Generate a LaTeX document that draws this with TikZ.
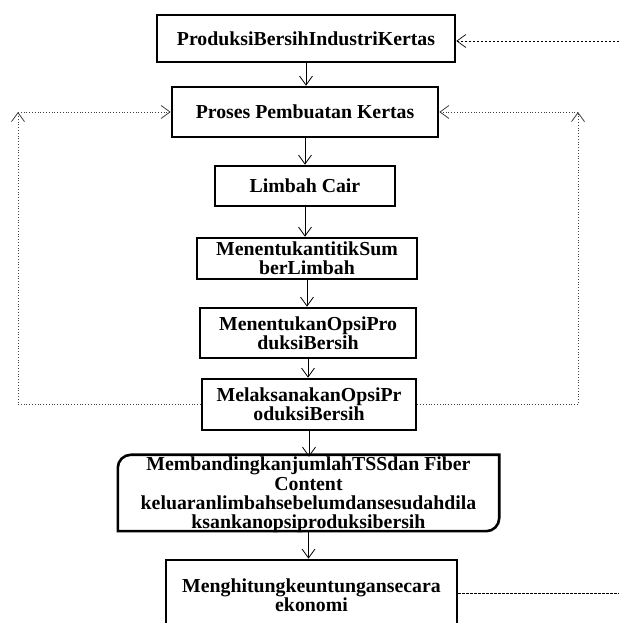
\documentclass[tikz,border=0pt]{standalone}
\usepackage{fontspec}
\setmainfont{Liberation Serif}
\usetikzlibrary{arrows.meta,calc}
\begin{document}
\begin{tikzpicture}[x=1pt,y=1pt,
  txt/.style={inner sep=0pt, align=center, font=\fontsize{19.8}{19.3}\selectfont\bfseries},
  box/.style={txt, draw, line width=2.6pt},
  tip/.style={-{Straight Barb[length=9pt,width=13pt]}},
  flow/.style={tip, line width=0.8pt},
  fb/.style={dotted, line width=0.8pt, draw=black!75},
  dsh/.style={dash pattern=on 2.5pt off 1.5pt, line width=0.7pt}]
\useasboundingbox (0,0) rectangle (619,623);
\clip (0,0) rectangle (619,623);
\node[box, minimum width=298pt, minimum height=47pt] (b1) at (306,584.5) {ProduksiBersihIndustriKertas};
\node[box, minimum width=266pt, minimum height=50pt] (b2) at (305,511) {Proses Pembuatan Kertas};
\node[box, minimum width=180pt, minimum height=40pt] (b3) at (305,437) {Limbah Cair};
\node[box, minimum width=220pt, minimum height=41pt] (b4) at (307,364.5) {MenentukantitikSum\\berLimbah};
\node[box, minimum width=216pt, minimum height=50pt] (b5) at (308,290) {MenentukanOpsiPro\\duksiBersih};
\node[box, minimum width=214pt, minimum height=51pt] (b6) at (309,218.5) {MelaksanakanOpsiPr\\oduksiBersih};
\node[txt, minimum width=381pt, minimum height=76pt] (b7) at (308.5,128) {MembandingkanjumlahTSSdan Fiber\\Content\\keluaranlimbahsebelumdansesudahdila\\ksankanopsiproduksibersih};
\draw[line width=2.6pt] ($(b7.south west)+(0,2)$) -- ($(b7.north west)+(0,-11)$) arc[start angle=180,end angle=90,radius=13pt]
  -- ($(b7.north east)+(0,2)$) -- ($(b7.south east)+(0,15)$) arc[start angle=0,end angle=-90,radius=13pt] -- cycle;
\node[box, minimum width=291pt, minimum height=70pt] (b8) at (311.5,28) {Menghitungkeuntungansecara\\ekonomi};
% main flow
\draw[flow] (b1.south) -- (b1.south |- b2.north);
\draw[flow] (b2.south) -- (b2.south |- b3.north);
\draw[flow] (b3.south) -- (b3.south |- b4.north);
\draw[flow] (b4.south) -- (b4.south |- b5.north);
\draw[flow] (b5.south) -- (b5.south |- b6.north);
\draw[flow] (b6.south) -- (b6.south |- b7.north);
\draw[flow] ($(b7.south)+(0,2)$) -- (b7.south |- b8.north);
% feedback loops
\coordinate (lc) at (18,511);
\coordinate (rc) at (578,511);
\draw[fb, tip] (b6.west) -| (lc);
\draw[fb, tip] (lc) -- (b2.west);
\draw[fb, tip] (b6.east) -| (rc);
\draw[fb, tip] (rc) -- (b2.east);
% dashed connectors leaving the picture
\coordinate (tr) at (619,582);
\coordinate (br) at (619,30);
\draw[dsh, tip] (tr) -- (tr -| b1.east);
\draw[dsh] (b8.east |- br) -- (br);
\end{tikzpicture}
\end{document}
